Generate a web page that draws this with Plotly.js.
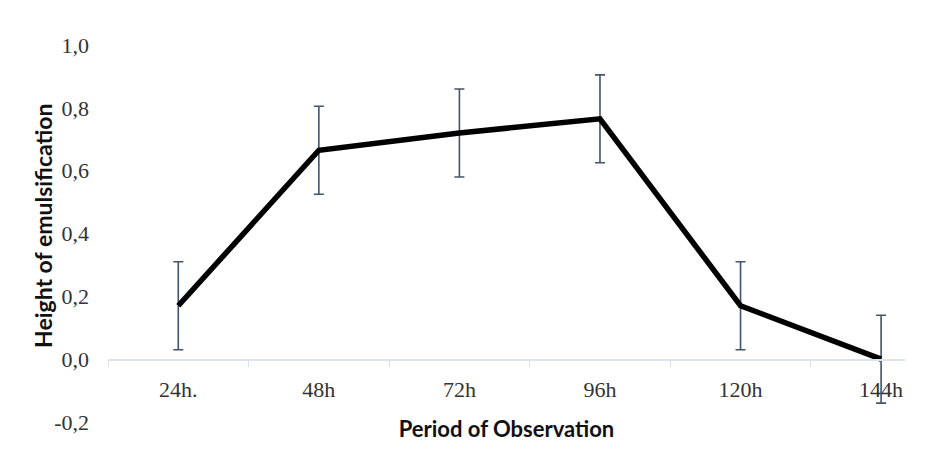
<!DOCTYPE html>
<html>
<head>
<meta charset="utf-8">
<script src="https://cdn.plot.ly/plotly-3.0.1.min.js"></script>
<style>
  html, body { margin: 0; padding: 0; background: #fff; }
  #chart { width: 946px; height: 460px; }
</style>
</head>
<body>
<div id="chart"></div>
<script>
// observation periods and emulsification heights
var periods = ["24h.", "48h", "72h", "96h", "120h", "144h"];
var heights = [0.17, 0.665, 0.72, 0.765, 0.17, 0.0];
var errors = [0.14, 0.14, 0.14, 0.14, 0.14, 0.14];

var yTicks = [-0.2, 0, 0.2, 0.4, 0.6, 0.8, 1.0];
var yTickText = ["-0,2", "0,0", "0,2", "0,4", "0,6", "0,8", "1,0"];

var serif = "'Liberation Serif', 'Times New Roman', serif";
var sans = "Lato, 'Open Sans', sans-serif";

var trace1 = {
  x: periods,
  y: heights,
  type: "scatter",
  mode: "lines",
  line: { color: "#000000", width: 5.5 },
  error_y: {
    type: "data",
    array: errors,
    visible: true,
    color: "#44546a",
    thickness: 1.6,
    width: 5
  },
  hoverinfo: "x+y"
};

var layout = {
  width: 946,
  height: 460,
  margin: { l: 108, r: 41, t: 45, b: 38 },
  paper_bgcolor: "#ffffff",
  plot_bgcolor: "#ffffff",
  showlegend: false,
  font: { family: serif, size: 22, color: "#333333" },
  xaxis: {
    type: "category",
    range: [-0.5, 5.17],
    anchor: "free",
    position: 0.2 / 1.2,
    showline: true,
    linecolor: "#dde3ee",
    linewidth: 1.5,
    showgrid: false,
    zeroline: false,
    ticks: "outside",
    tickson: "boundaries",
    ticklen: 6,
    tickcolor: "#dde3ee",
    ticklabelstandoff: 10,
    tickfont: { family: serif, size: 22, color: "#333333" },
    title: {
      text: "Period of Observation",
      standoff: 20,
      font: { family: sans, size: 22, color: "#111111", weight: "bold" }
    },
    automargin: false
  },
  yaxis: {
    range: [-0.2, 1.0],
    tickvals: yTicks,
    ticktext: yTickText,
    showline: false,
    showgrid: false,
    zeroline: false,
    ticks: "",
    ticklabelstandoff: 18,
    tickfont: { family: serif, size: 22, color: "#333333" },
    automargin: false
  },
  // y title placed as annotation so it sits closer to the tick labels
  annotations: [{
    text: "Height of emulsification",
    xref: "paper",
    yref: "paper",
    x: -0.0816,
    y: 0.5225,
    xanchor: "center",
    yanchor: "middle",
    textangle: -90,
    showarrow: false,
    font: { family: sans, size: 23, color: "#111111", weight: "bold" }
  }]
};

Plotly.newPlot("chart", [trace1], layout, { displayModeBar: false, staticPlot: true });
</script>
</body>
</html>
